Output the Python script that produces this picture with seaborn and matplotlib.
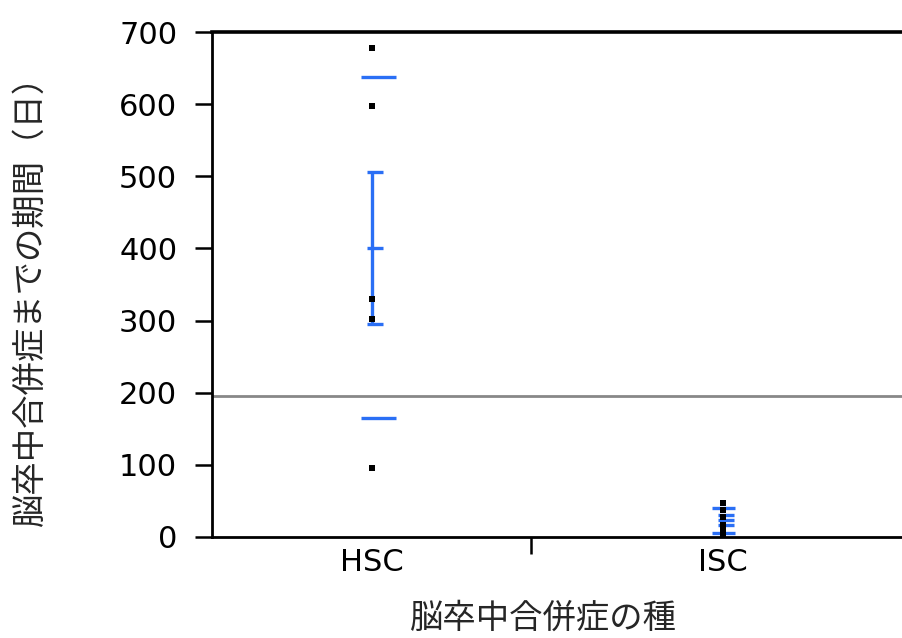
import numpy as np
import pandas as pd
import matplotlib
matplotlib.use('Agg')
import matplotlib.pyplot as plt
import seaborn as sns

# values (days)
groups = ['HSC', 'ISC']
hsc_days = [678, 598, 330, 302, 96]
isc_days = [47, 38, 28, 16, 8, 2]
y_ticks = [0, 100, 200, 300, 400, 500, 600, 700]
x_label = '脳卒中合併症の種'
y_label = '脳卒中合併症までの期間（日）'

BLUE = '#2a6ff5'


def get_figure_data():
    values = {'HSC': hsc_days, 'ISC': isc_days}
    rows = []
    start = 0
    # group width proportional to sample size (JMP style)
    for g in groups:
        n = len(values[g])
        for v in values[g]:
            rows.append({'group': g, 'days': v, 'pos': start + n / 2})
        start += n
    return pd.DataFrame(rows)


def draw_figure(df):
    sns.set_theme(style='white')
    plt.rcParams['font.family'] = ['DejaVu Sans', 'Noto Sans CJK JP']
    fig = plt.figure(figsize=(9.02, 6.38), dpi=100)
    ax = fig.add_axes([212 / 902, 101 / 638, 702 / 902, 505 / 638])

    # grand mean line
    ax.axhline(df['days'].mean(), color='#888888', lw=2, zorder=1)

    stats = df.groupby('group', sort=False).agg(
        pos=('pos', 'first'), mean=('days', 'mean'),
        sd=('days', 'std'), n=('days', 'size'))
    stats['se'] = stats['sd'] / np.sqrt(stats['n'])

    sd_right = {'HSC': 0.38, 'ISC': 0.2}
    for g, r in stats.iterrows():
        x = r['pos']
        ax.hlines([r['mean'] + r['sd'], r['mean'] - r['sd']], x - 0.165, x + sd_right[g],
                  color=BLUE, lw=2.4, zorder=2, clip_on=False)
        ax.vlines(x, r['mean'] - r['se'], r['mean'] + r['se'], color=BLUE, lw=2.4, zorder=2)
        ax.hlines([r['mean'] - r['se'], r['mean'], r['mean'] + r['se']], x - 0.07, x + 0.18,
                  color=BLUE, lw=2.4, zorder=2)

    sns.scatterplot(data=df, x='pos', y='days', marker='s', color='black',
                    s=22, linewidth=0, ax=ax, zorder=3, legend=False)

    total = len(df)
    ax.set_xlim(0, total)
    ax.set_ylim(0, 700)
    ax.set_yticks(y_ticks)
    ax.set_yticklabels([str(t) for t in y_ticks])

    bounds = np.cumsum([len(hsc_days), len(isc_days)])[:-1]
    ax.set_xticks(bounds)
    ax.set_xticklabels([''] * len(bounds))
    ax.set_xticks(stats['pos'].values, minor=True)
    ax.set_xticklabels(groups, minor=True)

    ax.tick_params(axis='y', direction='out', length=12, width=1.8, pad=13,
                   labelsize=22, left=True, colors='black')
    ax.tick_params(axis='x', which='major', direction='out', length=12, width=1.8,
                   bottom=True, colors='black')
    ax.tick_params(axis='x', which='minor', length=0, pad=8, labelsize=22,
                   bottom=True, labelcolor='black')

    for s in ['left', 'bottom']:
        ax.spines[s].set_color('black')
        ax.spines[s].set_linewidth(2)
    ax.spines['top'].set_color('black')
    ax.spines['top'].set_linewidth(2.6)
    ax.spines['right'].set_visible(False)
    ax.grid(False)
    ax.set_xlabel('')
    ax.set_ylabel('')

    fig.text(30 / 902, 1 - 292 / 638, y_label, rotation=90, ha='center', va='center',
             fontsize=24, family=['Noto Sans CJK JP', 'DejaVu Sans'])
    fig.text(543 / 902, 1 - 618 / 638, x_label, ha='center', va='center',
             fontsize=24, family=['Noto Sans CJK JP', 'DejaVu Sans'])

    fig.savefig('out.png', dpi=100)


def main():
    df = get_figure_data()
    draw_figure(df)


if __name__ == '__main__':
    main()
